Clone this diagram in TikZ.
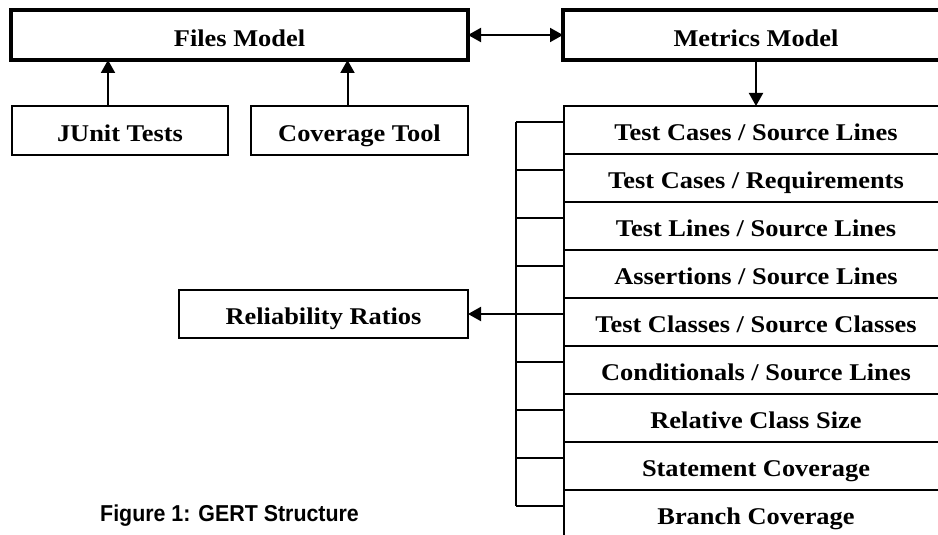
\documentclass[tikz,border=0pt]{standalone}
\usepackage{fontspec}
\setmainfont{Liberation Serif}
\newfontfamily\boxfont[FakeStretch=1.1]{Liberation Serif}
\newfontfamily\captionfont{Liberation Sans}
\usepackage{tikz}
\usetikzlibrary{arrows.meta, positioning}

\begin{document}
\begin{tikzpicture}[
    x=1pt, y=-1pt,
    model/.style={
      rectangle, draw=black, line width=3.5pt,
      font=\boxfont\fontsize{24}{28}\selectfont\bfseries,
      text height=23pt, text depth=0pt,
      minimum height=50pt, inner sep=0pt, outer sep=0pt
    },
    source/.style={
      rectangle, draw=black, line width=2pt,
      font=\boxfont\fontsize{24}{28}\selectfont\bfseries,
      text height=21pt, text depth=0pt,
      minimum height=48pt, inner sep=0pt, outer sep=0pt
    },
    metric/.style={
      rectangle, draw=black, line width=2pt,
      font=\boxfont\fontsize{24}{28}\selectfont\bfseries,
      text height=21pt, text depth=0pt,
      minimum width=384pt, minimum height=48pt,
      inner sep=0pt, outer sep=0pt
    },
    wire/.style={line width=2pt, draw=black},
    arrow/.style={-{Triangle[width=14pt,length=13pt]}, line width=2pt, draw=black},
    twoway/.style={{Triangle[width=14pt,length=13pt]}-{Triangle[width=14pt,length=13pt]}, line width=2pt, draw=black},
    caption/.style={font=\captionfont\fontsize{23}{28}\selectfont\bfseries, anchor=west, inner sep=0pt}
  ]

    % ── canvas ───────────────────────────────────────────────────────────
    \useasboundingbox (0,0) rectangle (938,535);
    \clip (0,0) rectangle (938,535);

    % ── top row: the two models ──────────────────────────────────────────
    \node[model, minimum width=457pt] (files)   at (239.5, 35) {Files Model};
    \node[model, minimum width=386pt] (metrics) at (756, 35)   {Metrics Model};

    % ── inputs of the files model ────────────────────────────────────────
    \node[source, minimum width=216pt] (junit)   at (120, 130.5)   {JUnit Tests};
    \node[source, minimum width=217pt] (covtool) at (359.5, 130.5) {Coverage Tool};

    % ── result box ───────────────────────────────────────────────────────
    \node[source, minimum width=289pt] (ratios) at (323.5, 314) {Reliability Ratios};

    % ── metric rows (stack, runs off the page) ───────────────────────────
    \node[metric] (m1) at (756, 130) {Test Cases / Source Lines};
    \node[metric] (m2) at (756, 178) {Test Cases / Requirements};
    \node[metric] (m3) at (756, 226) {Test Lines / Source Lines};
    \node[metric] (m4) at (756, 274) {Assertions / Source Lines};
    \node[metric] (m5) at (756, 322) {Test Classes / Source Classes};
    \node[metric] (m6) at (756, 370) {Conditionals / Source Lines};
    \node[metric] (m7) at (756, 418) {Relative Class Size};
    \node[metric] (m8) at (756, 466) {Statement Coverage};
    \node[metric] (m9) at (756, 514) {Branch Coverage};

    % ── caption ──────────────────────────────────────────────────────────
    \node[caption] (fig) at (100, 516) {\scalebox{0.93}[1]{Figure 1: GERT Structure}};

    % ── collector bar beside the stack ───────────────────────────────────
    \foreach \i in {1,...,9}
      \coordinate (tick\i) at (516, {122+48*(\i-1)});
    \draw[wire] (tick1) -- (tick9);
    \foreach \i in {1,...,9}
      \draw[wire] (tick\i) -- (tick\i -| m\i.west);

    % ── arrows ───────────────────────────────────────────────────────────
    \draw[twoway] (files.east) -- (metrics.west);
    \draw[arrow] ([xshift=-12pt]junit.north) -- ([xshift=-12pt]junit.north |- files.south);
    \draw[arrow] ([xshift=-12pt]covtool.north) -- ([xshift=-12pt]covtool.north |- files.south);
    \draw[arrow] (metrics) -- (m1);
    \draw[arrow] (tick5) -- (ratios.east);

  \end{tikzpicture}
\end{document}
